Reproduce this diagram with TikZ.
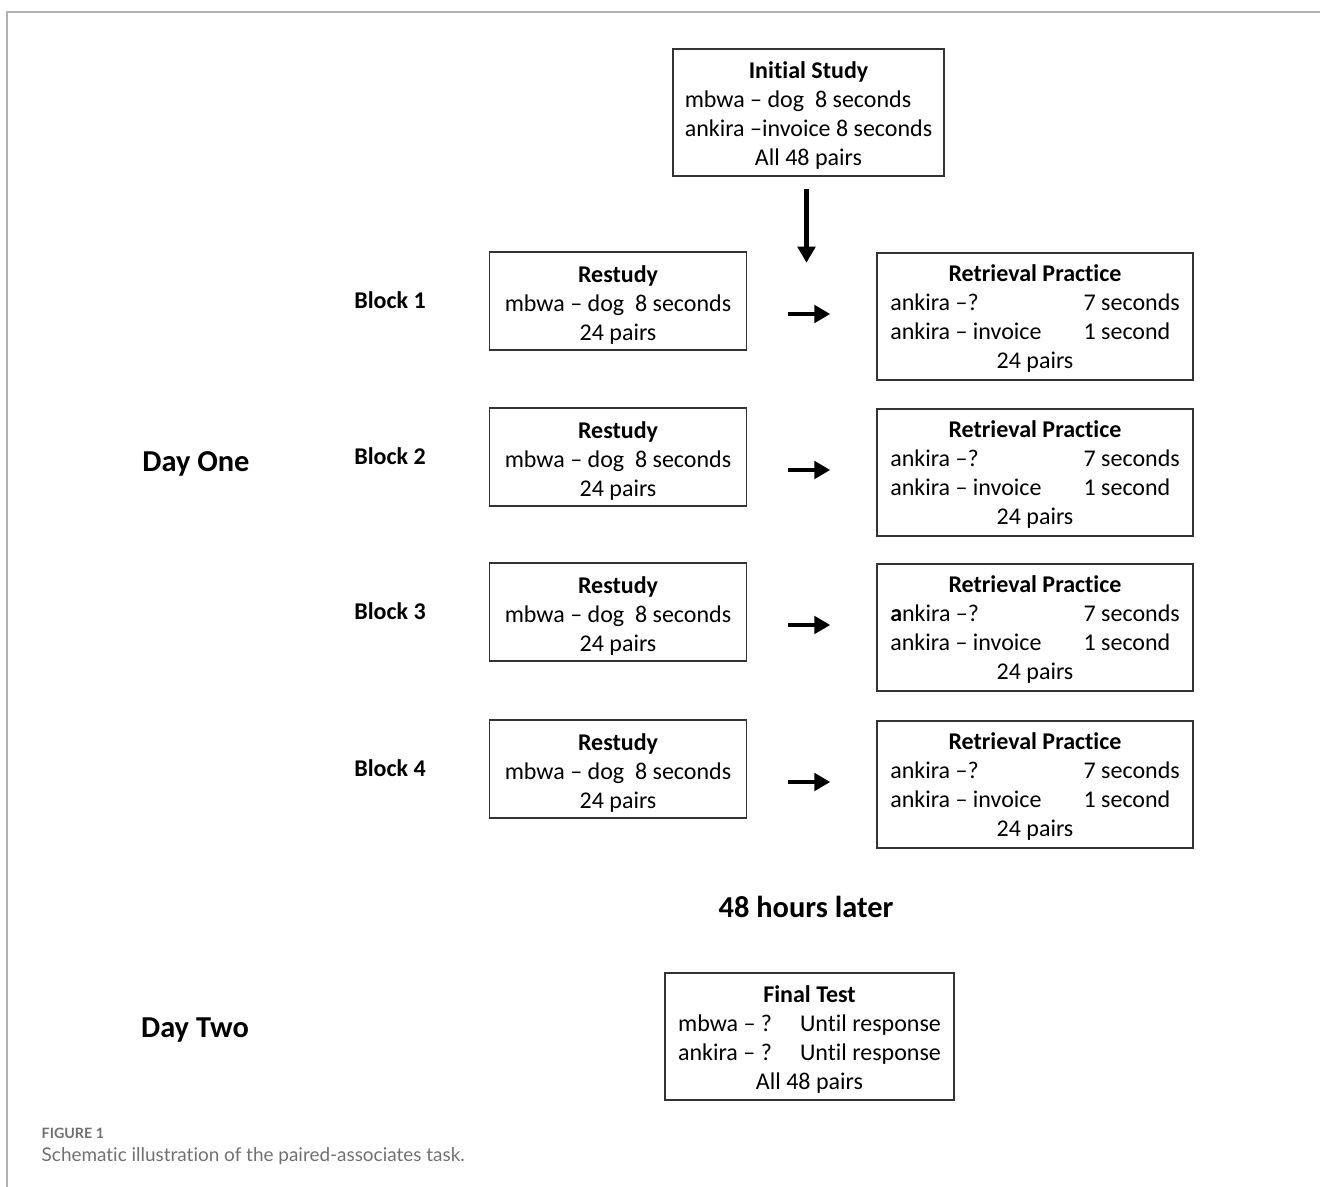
\documentclass[tikz,border=0pt]{standalone}
\usepackage{fontspec}
\setmainfont[Ligatures=NoCommon]{Carlito}
\newfontfamily\capfont[Ligatures=NoCommon]{Lato}
\usetikzlibrary{arrows.meta,calc}
\definecolor{capgray}{HTML}{707070}
\newcommand\topstrut{\rule{0pt}{19.5pt}}
\begin{document}
\begin{tikzpicture}[x=0.75pt,y=-0.75pt, font=\fontsize{18}{21.75}\selectfont,
  box/.style={draw=black!80,line width=1.1pt,align=center,inner sep=0pt},
  arr/.style={-{Triangle[length=12pt,width=13pt]},line width=3.4pt},
  blab/.style={font=\fontsize{18}{21.75}\selectfont\bfseries},
  big/.style={font=\fontsize{22.8}{27}\selectfont\bfseries}]
  \useasboundingbox (0,0) rectangle (1320,1187);
  \draw[gray!60,line width=1.1pt] (1320,12) -- (7,12) -- (7,1187);
  % study phase
  \node[box,minimum width=203pt,minimum height=95.25pt] (init) at (808.5,112.5)
    {\begin{tabular}{@{}l@{}}
      \multicolumn{1}{c}{\textbf{Initial Study}\rule{0pt}{21pt}}\\
      mbwa -- dog\ \ 8 seconds\\
      ankira --invoice 8 seconds\\
      \multicolumn{1}{c}{All 48 pairs}
    \end{tabular}};
  \draw[arr] ($(init.south)+(-2,12)$) -- ++(0,74) coordinate (down);
  \node[big] (dayone) at (196,464) {Day One};
  % blocks
  \foreach \i/\y/\a in {1/301/a, 2/457/a, 3/612/\textbf{a}, 4/769/a}{
    \node[blab] (blk\i) at (390,\y-1) {Block \i};
    \node[box,minimum width=193pt,minimum height=73.5pt] (rs\i) at (618,\y)
      {\textbf{Restudy}\rule{0pt}{18pt}\\ mbwa -- dog\ \ 8 seconds\\ 24 pairs};
    \node[box,minimum width=237pt,minimum height=95.25pt] (rp\i) at (1035,\y+15.5)
      {\begin{tabular}{@{}p{145pt}@{}l@{}}
        \multicolumn{2}{c}{\textbf{Retrieval Practice}\topstrut}\\
        \a nkira --? & 7 seconds\\
        ankira -- invoice & 1 second\\
        \multicolumn{2}{c}{24 pairs}
      \end{tabular}};
    \draw[arr] ($(rs\i.east)+(41,13)$) -- ($(rp\i.west)+(-46,-2.5)$);
  }
  \node[big] (later) at (806,907) {48 hours later};
  % day two
  \node[big] (daytwo) at (195,1030) {Day Two};
  \node[box,minimum width=216.75pt,minimum height=95.25pt] (final) at (809.5,1036.5)
    {\begin{tabular}{@{}p{91.5pt}@{}l@{}}
      \multicolumn{2}{c}{\textbf{Final Test}\rule{0pt}{21pt}}\\
      mbwa -- ? & Until response\\
      ankira -- ? & Until response\\
      \multicolumn{2}{c}{All 48 pairs}
    \end{tabular}};
  % caption
  \node[anchor=west,text=capgray,font=\capfont\fontsize{10.7}{12}\selectfont\bfseries] (fig) at (37,1133) {FIGURE 1};
  \node[anchor=west,text=capgray,font=\capfont\fontsize{14.2}{17}\selectfont] (caption) at (37,1156) {Schematic illustration of the paired-associates task.};
\end{tikzpicture}
\end{document}
